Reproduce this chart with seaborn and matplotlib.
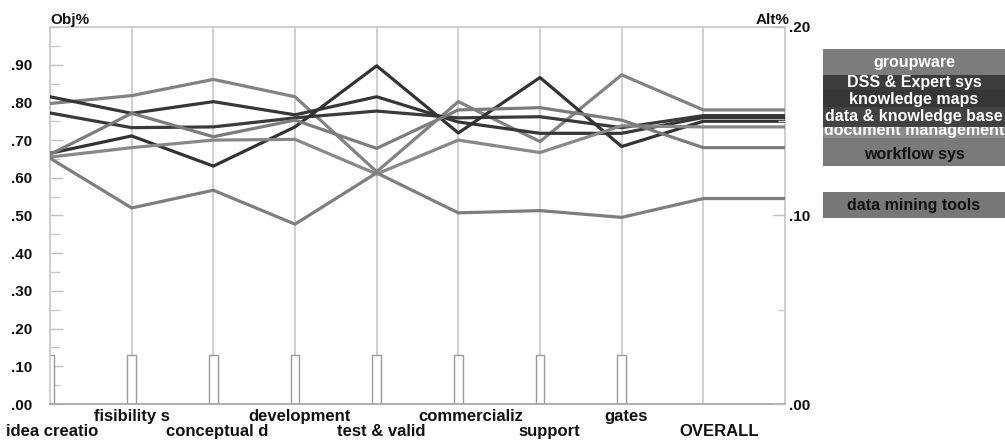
import matplotlib
matplotlib.use("Agg")
import matplotlib.pyplot as plt
import seaborn as sns
import pandas as pd
from matplotlib.patches import Rectangle
from matplotlib.ticker import MultipleLocator, FixedLocator

# criteria (x positions 0..7), then OVERALL
criteria = ["idea creatio", "fisibility s", "conceptual d", "development",
            "test & valid", "commercializ", "support", "gates"]
overall_label = "OVERALL"

alternatives = ["groupware", "DSS & Expert sys", "knowledge maps",
                "data & knowledge base", "document management",
                "workflow sys", "data mining tools"]

# performance of each alternative on each criterion (Obj%)
groupware = [0.797, 0.818, 0.861, 0.815, 0.616, 0.802, 0.696, 0.873]
dss_expert = [0.772, 0.733, 0.735, 0.759, 0.777, 0.759, 0.762, 0.733]
knowledge_maps = [0.815, 0.771, 0.802, 0.767, 0.815, 0.748, 0.718, 0.718]
data_kb = [0.665, 0.711, 0.631, 0.735, 0.897, 0.719, 0.866, 0.683]
document_mgmt = [0.655, 0.680, 0.700, 0.702, 0.610, 0.700, 0.667, 0.738]
workflow = [0.662, 0.771, 0.709, 0.753, 0.678, 0.780, 0.786, 0.753]
data_mining = [0.652, 0.520, 0.567, 0.477, 0.613, 0.507, 0.513, 0.495]

# overall priority of each alternative (Alt%)
overall_alt = [0.156, 0.153, 0.152, 0.150, 0.147, 0.136, 0.109]

# criterion weights (Obj%)
weights = [0.13, 0.13, 0.13, 0.13, 0.13, 0.13, 0.13, 0.13]

ALT_MAX = 0.20

series = [groupware, dss_expert, knowledge_maps, data_kb,
          document_mgmt, workflow, data_mining]
line_colors = {"groupware": "#828282", "DSS & Expert sys": "#3a3a3a",
               "knowledge maps": "#363636", "data & knowledge base": "#333333",
               "document management": "#888888", "workflow sys": "#7c7c7c",
               "data mining tools": "#7e7e7e"}

rows = []
for name, vals, ov in zip(alternatives, series, overall_alt):
    for i, v in enumerate(vals):
        rows.append({"pos": i, "value": v, "alt": name})
    rows.append({"pos": len(criteria), "value": ov / ALT_MAX, "alt": name})
    rows.append({"pos": len(criteria) + 1, "value": ov / ALT_MAX, "alt": name})
df = pd.DataFrame(rows)

sns.set_style("white")
plt.rcParams["font.family"] = ["Liberation Sans", "DejaVu Sans"]
plt.rcParams["font.weight"] = "bold"

W, H = 1005, 444
fig = plt.figure(figsize=(W / 100, H / 100), dpi=100)
ax = fig.add_axes([50 / W, 1 - 404 / H, 735 / W, 377 / H])

# criterion weight bars
sns.barplot(x=list(range(len(criteria))), y=weights, native_scale=True,
            width=0.11, color="white", edgecolor="#9a9a9a", linewidth=1.0,
            ax=ax, zorder=2)

# vertical grid lines
for xv in range(len(criteria) + 2):
    ax.axvline(xv, color="#cccccc", lw=1.3, zorder=1)

sns.lineplot(data=df, x="pos", y="value", hue="alt", palette=line_colors,
             estimator=None, sort=False, legend=False, lw=2.3, ax=ax, zorder=3)

ax.set_xlim(0, len(criteria) + 1)
ax.set_ylim(0, 1.0)
ax.set_xlabel("")
ax.set_ylabel("")
ax.set_xticks([])

ax.yaxis.set_major_locator(FixedLocator([i / 10 for i in range(10)]))
ax.yaxis.set_minor_locator(MultipleLocator(0.05))
ax.set_yticklabels(["." + f"{i * 10:02d}" for i in range(10)])
ax.tick_params(axis="y", which="major", direction="in", length=9, width=1,
               color="#c0c0c0", pad=13, labelsize=11, labelcolor="#111111")
ax.tick_params(axis="y", which="minor", direction="in", length=7, width=1,
               color="#c8c8c8")
for t in ax.get_yticklabels():
    t.set_fontweight("bold")

for s in ["left", "top", "right"]:
    ax.spines[s].set_color("#cccccc")
    ax.spines[s].set_linewidth(1.3)
ax.spines["bottom"].set_color("#a8a8a8")
ax.spines["bottom"].set_linewidth(1.3)

ax2 = ax.twinx()
ax2.set_ylim(0, ALT_MAX)
ax2.set_yticks([0.0, 0.10, 0.20])
ax2.set_yticklabels([".00", ".10", ".20"])
ax2.yaxis.set_minor_locator(MultipleLocator(0.05))
ax2.tick_params(axis="y", which="major", direction="in", length=9, width=1,
                color="#c0c0c0", pad=3, labelsize=11, labelcolor="#111111")
ax2.tick_params(axis="y", which="minor", direction="in", length=5, width=1,
                color="#d0d0d0")
for t in ax2.get_yticklabels():
    t.set_fontweight("bold")
for s in ax2.spines.values():
    s.set_visible(False)

# staggered criterion labels
labels = criteria + [overall_label]
nudge = [0.02, 0.0, 0.05, 0.06, 0.06, 0.15, 0.11, 0.05, 0.2]
for i, lab in enumerate(labels):
    yv = -0.032 if i % 2 == 1 else -0.074
    ax.text(i + nudge[i], yv, lab, ha="center", va="center", fontsize=12,
            fontweight="bold", color="#111111", clip_on=False)

fig.text(50 / W, 1 - 20 / H, "Obj%", ha="left", va="center", fontsize=11,
         fontweight="bold", color="#111111")
fig.text(789 / W, 1 - 20 / H, "Alt%", ha="right", va="center", fontsize=11,
         fontweight="bold", color="#111111")

# label boxes on the right
boxes = [
    ("groupware", 49, 75, 63, "#7c7c7c", "white", 3),
    ("DSS & Expert sys", 75, 90, 82, "#3c3c3c", "white", 3),
    ("knowledge maps", 90, 107, 99, "#363636", "white", 3),
    ("data & knowledge base", 107, 127, 116, "#424242", "white", 3),
    ("document management", 127, 138, 131, "#8a8a8a", "white", 1),
    ("workflow sys", 138, 166, 154, "#7a7a7a", "#111111", 3),
    ("data mining tools", 192, 218, 205, "#777777", "#111111", 3),
]
for name, top, bot, ty, bg, fg, z in boxes:
    fig.add_artist(Rectangle((823 / W, 1 - bot / H), (W - 823) / W,
                             (bot - top) / H, transform=fig.transFigure,
                             facecolor=bg, edgecolor="none", zorder=z))
    fig.text(914 / W, 1 - ty / H, name, ha="center", va="center",
             fontsize=11.5, fontweight="bold", color=fg, zorder=z + 1)

fig.savefig("out.png", dpi=100)
